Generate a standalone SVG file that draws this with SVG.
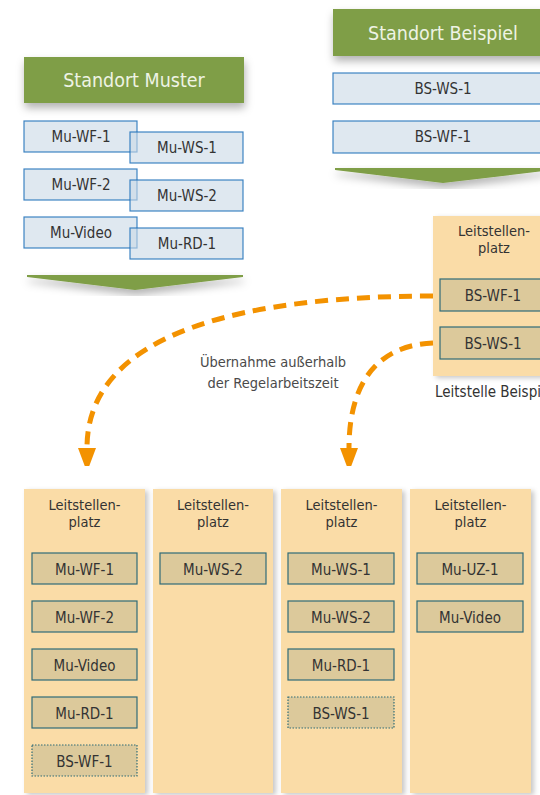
<svg xmlns="http://www.w3.org/2000/svg" width="540" height="795" viewBox="0 0 540 795">
  <defs>
    <style>
      text { font-family: "DejaVu Sans Condensed", "DejaVu Sans", sans-serif; font-stretch: condensed; fill: #333333; text-anchor: middle; }
      .hdr { fill: #7f9e47; }
      .hdr-t { fill: #eef3e4; font-size: 19.5px; }
      .blue { fill: #c9d8e6; fill-opacity: 0.6; stroke: #1f70b8; stroke-opacity: 0.85; stroke-width: 1.2; }
      .lbl { font-size: 15px; }
      .cap { font-size: 14.5px; }
      .col { fill: #fadca7; }
      .slot { fill: #dcc99b; stroke: #2f6c78; stroke-width: 1.2; }
      .slot-tmp { fill: #dcc99b; stroke: #2f6c78; stroke-width: 1.2; stroke-dasharray: 1.5 1.5; }
      .flow { fill: none; stroke: #f39200; stroke-width: 5; stroke-dasharray: 13 8; }
      .note { fill: #4a4a4a; font-size: 14.5px; }
    </style>
    <filter id="shadow" x="-20%" y="-20%" width="150%" height="160%">
      <feDropShadow dx="1" dy="5" stdDeviation="4" flood-color="#000" flood-opacity="0.3"/>
    </filter>
    <filter id="colShadow" x="-10%" y="-5%" width="130%" height="115%">
      <feDropShadow dx="3" dy="2" stdDeviation="2.5" flood-color="#000" flood-opacity="0.22"/>
    </filter>
    <marker id="arrow" markerUnits="userSpaceOnUse" markerWidth="18" markerHeight="26" viewBox="0 0 18 24" refX="0" refY="9" orient="auto">
      <path d="M0,0 L24,9 L0,18 Z" fill="#f39200"/>
    </marker>
  </defs>

  <!-- Standort Muster -->
  <g id="standort-muster">
    <rect class="hdr" x="24" y="57" width="220" height="46" filter="url(#shadow)"/>
    <text class="hdr-t" x="134" y="87">Standort Muster</text>
  </g>
  <g id="mu-wf-1"><rect class="blue" x="24" y="121" width="113" height="31"/><text class="lbl" x="81" y="142">Mu-WF-1</text></g>
  <g id="mu-ws-1"><rect class="blue" x="130" y="132" width="113" height="31"/><text class="lbl" x="187" y="153">Mu-WS-1</text></g>
  <g id="mu-wf-2"><rect class="blue" x="24" y="169" width="113" height="31"/><text class="lbl" x="81" y="190">Mu-WF-2</text></g>
  <g id="mu-ws-2"><rect class="blue" x="130" y="180" width="113" height="31"/><text class="lbl" x="187" y="201">Mu-WS-2</text></g>
  <g id="mu-video"><rect class="blue" x="24" y="217" width="113" height="31"/><text class="lbl" x="81" y="238">Mu-Video</text></g>
  <g id="mu-rd-1"><rect class="blue" x="130" y="228" width="113" height="31"/><text class="lbl" x="187" y="249">Mu-RD-1</text></g>
  <g id="muster-down">
    <polygon class="hdr" points="27,275 243,275 243,277 135,290 27,277" filter="url(#shadow)"/>
  </g>

  <!-- Standort Beispiel -->
  <g id="standort-beispiel">
    <rect class="hdr" x="333" y="9" width="220" height="47" filter="url(#shadow)"/>
    <text class="hdr-t" x="443" y="39.5">Standort Beispiel</text>
  </g>
  <g id="bs-ws-1"><rect class="blue" x="333" y="73" width="220" height="31"/><text class="lbl" x="443" y="94">BS-WS-1</text></g>
  <g id="bs-wf-1"><rect class="blue" x="333" y="121" width="220" height="32"/><text class="lbl" x="443" y="142">BS-WF-1</text></g>
  <g id="beispiel-down">
    <polygon class="hdr" points="335,168 553,168 553,170 443,183 335,170" filter="url(#shadow)"/>
  </g>

  <!-- Leitstelle Beispiel -->
  <g id="leitstelle-beispiel">
    <rect class="col" x="433" y="216" width="122" height="160" filter="url(#colShadow)"/>
    <text class="cap" x="494" y="236">Leitstellen-</text>
    <text class="cap" x="494" y="253">platz</text>
    <rect class="slot" x="440" y="279" width="106" height="32"/>
    <text class="lbl" x="493" y="301">BS-WF-1</text>
    <rect class="slot" x="440" y="327" width="106" height="32"/>
    <text class="lbl" x="493" y="349">BS-WS-1</text>
    <text x="435" y="397" style="text-anchor:start;font-size:15px">Leitstelle Beispiel</text>
  </g>

  <!-- Takeover connectors -->
  <g id="connectors">
    <path class="flow" d="M433,296 C250,296 87,330 87,448" marker-end="url(#arrow)"/>
    <path class="flow" d="M433,343 C380,345 349,380 349,448" marker-end="url(#arrow)"/>
    <text class="note" x="273" y="367">Übernahme außerhalb</text>
    <text class="note" x="273" y="388">der Regelarbeitszeit</text>
  </g>

  <!-- Leitstellenplätze Muster -->
  <g id="platz-1">
    <rect class="col" x="24" y="489" width="121" height="304" filter="url(#colShadow)"/>
    <text class="cap" x="84.5" y="510">Leitstellen-</text>
    <text class="cap" x="84.5" y="527">platz</text>
    <rect class="slot" x="32" y="553" width="105" height="31"/><text class="lbl" x="84.5" y="575">Mu-WF-1</text>
    <rect class="slot" x="32" y="601" width="105" height="31"/><text class="lbl" x="84.5" y="623">Mu-WF-2</text>
    <rect class="slot" x="32" y="649" width="105" height="31"/><text class="lbl" x="84.5" y="671">Mu-Video</text>
    <rect class="slot" x="32" y="697" width="105" height="31"/><text class="lbl" x="84.5" y="719">Mu-RD-1</text>
    <rect class="slot-tmp" x="32" y="745" width="105" height="31"/><text class="lbl" x="84.5" y="767">BS-WF-1</text>
  </g>
  <g id="platz-2">
    <rect class="col" x="153" y="489" width="120" height="304" filter="url(#colShadow)"/>
    <text class="cap" x="213" y="510">Leitstellen-</text>
    <text class="cap" x="213" y="527">platz</text>
    <rect class="slot" x="160" y="553" width="106" height="31"/><text class="lbl" x="213" y="575">Mu-WS-2</text>
  </g>
  <g id="platz-3">
    <rect class="col" x="281" y="489" width="121" height="304" filter="url(#colShadow)"/>
    <text class="cap" x="341.5" y="510">Leitstellen-</text>
    <text class="cap" x="341.5" y="527">platz</text>
    <rect class="slot" x="288" y="553" width="106" height="31"/><text class="lbl" x="341" y="575">Mu-WS-1</text>
    <rect class="slot" x="288" y="601" width="106" height="31"/><text class="lbl" x="341" y="623">Mu-WS-2</text>
    <rect class="slot" x="288" y="649" width="106" height="31"/><text class="lbl" x="341" y="671">Mu-RD-1</text>
    <rect class="slot-tmp" x="288" y="697" width="106" height="31"/><text class="lbl" x="341" y="719">BS-WS-1</text>
  </g>
  <g id="platz-4">
    <rect class="col" x="410" y="489" width="121" height="304" filter="url(#colShadow)"/>
    <text class="cap" x="470.5" y="510">Leitstellen-</text>
    <text class="cap" x="470.5" y="527">platz</text>
    <rect class="slot" x="417" y="553" width="106" height="31"/><text class="lbl" x="470" y="575">Mu-UZ-1</text>
    <rect class="slot" x="417" y="601" width="106" height="31"/><text class="lbl" x="470" y="623">Mu-Video</text>
  </g>
</svg>
